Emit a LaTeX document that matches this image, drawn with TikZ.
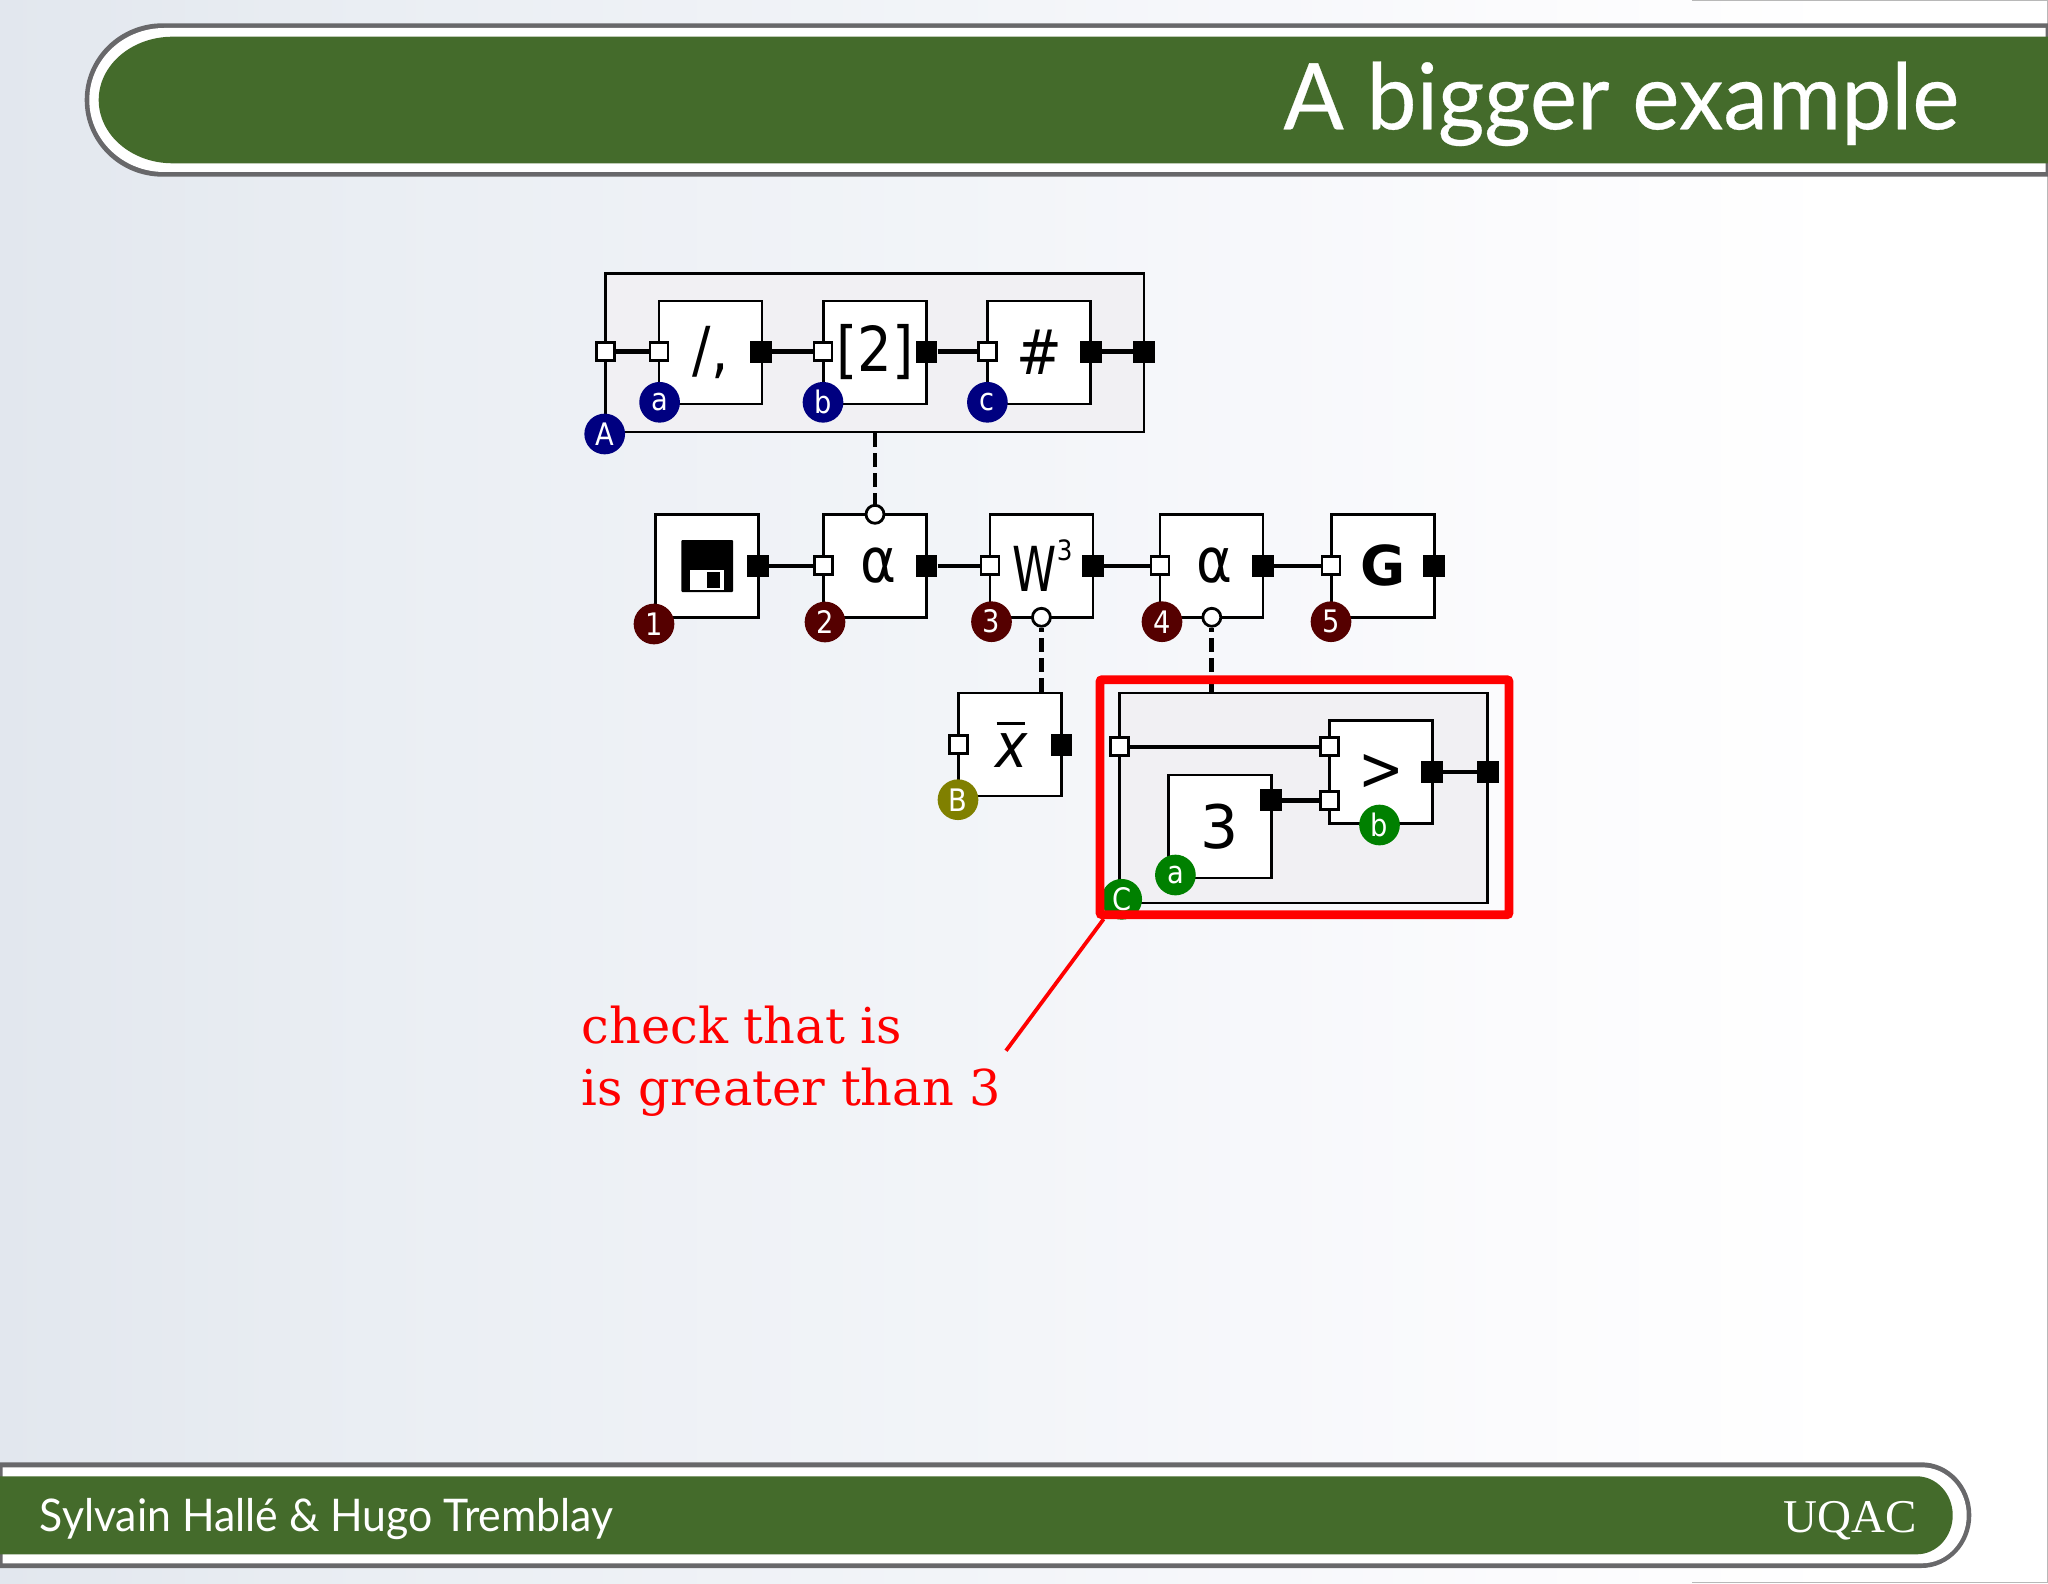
\documentclass[tikz,border=0pt]{standalone}
\usepackage{fontspec}
\setmainfont{DejaVu Sans}
\newfontfamily\gilltitle[FakeStretch=0.97,FakeBold=0.3]{Lato}
\newfontfamily\gillfoot[FakeStretch=0.95]{Lato}
\newfontfamily\uqac{Liberation Serif}
\newfontfamily\noteserif{DejaVu Serif}
\newfontfamily\narrowsans[FakeStretch=0.88]{DejaVu Sans}
\newfontfamily\narrowwide[FakeStretch=0.72]{DejaVu Sans}
\definecolor{slidegreen}{HTML}{446B2B}
\definecolor{slidegray}{HTML}{68686A}
\definecolor{groupfill}{HTML}{F1F0F3}
\definecolor{bnavy}{HTML}{000080}
\definecolor{bmaroon}{HTML}{550000}
\definecolor{bolive}{HTML}{808000}
\definecolor{bgreen}{HTML}{008000}
\definecolor{bgA}{HTML}{E2E7EE}
\definecolor{bgB}{HTML}{EAEEF3}
\definecolor{bgC}{HTML}{F3F5F9}
\definecolor{bgD}{HTML}{FBFBFD}
\pgfdeclarehorizontalshading{slidebg}{100bp}{color(0bp)=(bgA);color(25bp)=(bgA);color(34bp)=(bgB);color(50bp)=(bgC);color(62bp)=(bgD);color(70bp)=(white);color(100bp)=(white)}
\tikzset{
  blk/.style={draw=black,line width=1.35pt,fill=white,minimum width=51.5pt,minimum height=51.5pt,inner sep=0pt,font=\narrowsans\fontsize{31}{31}\selectfont},
  grp/.style={draw=black,line width=1.35pt,fill=groupfill,inner sep=0pt},
  wport/.style={draw=black,line width=1.4pt,fill=white,minimum size=9pt,inner sep=0pt},
  bport/.style={fill=black,minimum width=10.8pt,minimum height=11pt,inner sep=0pt},
  cport/.style={circle,draw=black,line width=1.4pt,fill=white,minimum size=9pt,inner sep=0pt},
  badge/.style={circle,minimum size=20.35pt,inner sep=0pt,text=white,font=\narrowsans\fontsize{15.5}{15.5}\selectfont},
  pipe/.style={line width=2.2pt,black},
  link/.style={line width=2.4pt,black,dash pattern=on 7pt off 3pt},
}
\begin{document}
\begin{tikzpicture}[x=0.5pt,y=-0.5pt]
\useasboundingbox (0,0) rectangle (2048,1583);
\shade[shading=slidebg] (0,0) rectangle (2048,1583);
% page edge
\draw[line width=0.7pt,color=black!28] (1692,0.5) -- (2047.4,0.5) -- (2047.4,1582.4) -- (1692,1582.4);
% header band
\fill[slidegray] (2048,23.3) -- (162.7,23.3) .. controls (119.6,23.3) and (84.7,57.6) .. (84.7,100) .. controls (84.7,142.4) and (119.6,176.7) .. (162.7,176.7) -- (2048,176.7) -- cycle;
\fill[white] (2045.7,28) -- (164.3,28) .. controls (122.9,28) and (89.3,60.2) .. (89.3,100) .. controls (89.3,139.8) and (122.9,172) .. (164.3,172) -- (2045.7,172) -- cycle;
\fill[slidegreen] (2048,36.7) -- (172.7,36.7) .. controls (131.8,36.7) and (98.7,65) .. (98.7,100) .. controls (98.7,135) and (131.8,163.3) .. (172.7,163.3) -- (2048,163.3) -- cycle;
\node[anchor=base west,inner sep=0pt,text=white,font=\gilltitle\fontsize{46}{46}\selectfont] (title) at (1283,129.3) {A bigger example};
% footer band
\fill[slidegray] (0,1462.3) -- (1921.3,1462.3) .. controls (1948.9,1462.3) and (1971.3,1486) .. (1971.3,1515.15) .. controls (1971.3,1544.3) and (1948.9,1568) .. (1921.3,1568) -- (0,1568) -- cycle;
\fill[white] (2.5,1467.3) -- (1921.7,1467.3) .. controls (1946.6,1467.3) and (1966.7,1488.8) .. (1966.7,1515.3) .. controls (1966.7,1541.8) and (1946.6,1563.3) .. (1921.7,1563.3) -- (2.5,1563.3) -- cycle;
\fill[slidegreen] (0,1476.3) -- (1916.7,1476.3) .. controls (1936.6,1476.3) and (1952.7,1493.8) .. (1952.7,1515.3) .. controls (1952.7,1536.8) and (1936.6,1554.3) .. (1916.7,1554.3) -- (0,1554.3) -- cycle;
\node[anchor=base west,inner sep=0pt,text=white,font=\gillfoot\fontsize{22.5}{22.5}\selectfont] (authors) at (39.5,1531.7) {Sylvain Hallé \& Hugo Tremblay};
\node[anchor=base east,inner sep=0pt,text=white,font=\uqac\fontsize{23.5}{23.5}\selectfont] (org) at (1917,1532.7) {UQAC};

% top group
\node[grp,minimum width=269.25pt,minimum height=79.35pt] (ga) at (874.75,352.65) {};
\node[blk] (b1) at (710.5,352.5) {/,};
\node[blk] (b2) at (875,352.5) {[2]};
\node[blk] (b3) at (1039.3,352.5) {\#};
\node[wport] (ga1) at (605.5,351.7) {};
\node[bport] (ga2) at (1144,351.7) {};
\node[wport] (b1i) at (659,351.7) {};
\node[bport] (b1o) at (761,351.7) {};
\node[wport] (b2i) at (823,351.7) {};
\node[bport] (b2o) at (926.5,351.7) {};
\node[wport] (b3i) at (987.4,351.7) {};
\node[bport] (b3o) at (1091,351.7) {};
\draw[pipe] (ga1) -- (b1i);
\draw[pipe] (b1o) -- (b2i);
\draw[pipe] (b2o) -- (b3i);
\draw[pipe] (b3o) -- (ga2);
\node[badge,fill=bnavy] (na) at (659.6,402.3) {a};
\node[badge,fill=bnavy] (nb) at (823,402.3) {b};
\node[badge,fill=bnavy] (nc) at (987.4,402.3) {c};
\node[badge,fill=bnavy] (nA) at (604.7,434) {A};

% main chain
\node[blk] (m1) at (707.3,565.8) {};
\fill[black,rounded corners=0.5pt] (681.4,540) rectangle (733.2,592);
\fill[white] (690,570.3) rectangle (724,590);
\fill[black] (707,571.7) rectangle (720,588.3);
\node[blk] (m2) at (875.1,565.8) {\hspace{3pt}α};
\node[blk,font=\narrowwide\fontsize{31}{31}\selectfont] (m3) at (1041.6,565.8) {\hspace{1pt}W\raisebox{15.5pt}{\narrowsans\fontsize{14}{14}\selectfont 3}};
\node[blk] (m4) at (1211.6,565.8) {\hspace{3pt}α};
\node[blk,font=\fontsize{27.5}{27.5}\selectfont\bfseries] (m5) at (1382.7,565.8) {G};
\node[bport] (m1o) at (758,565.7) {};
\node[wport] (m2i) at (823.3,565.7) {};
\node[bport] (m2o) at (926.5,565.7) {};
\node[wport] (m3i) at (990,565.7) {};
\node[bport] (m3o) at (1093,565.7) {};
\node[wport] (m4i) at (1160,565.7) {};
\node[bport] (m4o) at (1263,565.7) {};
\node[wport] (m5i) at (1331,565.7) {};
\node[bport] (m5o) at (1434,565.7) {};
\draw[pipe] (m1o) -- (m2i);
\draw[pipe] (m2o) -- (m3i);
\draw[pipe] (m3o) -- (m4i);
\draw[pipe] (m4o) -- (m5i);
\node[badge,fill=bmaroon] (n1) at (654,624) {1};
\node[badge,fill=bmaroon] (n2) at (825,622) {2};
\node[badge,fill=bmaroon] (n3) at (991.5,621.7) {3};
\node[badge,fill=bmaroon] (n4) at (1162,621.7) {4};
\node[badge,fill=bmaroon] (n5) at (1331,621.7) {5};

% average box
\node[blk] (xb) at (1010.2,744.5) {\itshape x\hspace{-15.5pt}\raisebox{21.3pt}{\rule{14.2pt}{1.35pt}}\hspace{1.3pt}};
\node[wport] (xbi) at (958.8,744.7) {};
\node[bport] (xbo) at (1061.5,744.7) {};
\node[badge,fill=bolive] (nB) at (958,799.7) {B};

% bottom group
\node[grp,minimum width=184.05pt,minimum height=105pt] (gc) at (1303.75,798) {};
\node[blk,font=\fontsize{30}{30}\selectfont] (c3) at (1219.9,826.5) {3};
\node[blk] (cg) at (1380.9,772) {>};
\node[wport] (gci) at (1119.7,746.7) {};
\node[bport] (gco) at (1487.8,772) {};
\node[wport] (cgi1) at (1329.3,746.7) {};
\node[wport] (cgi2) at (1329.3,800.3) {};
\node[bport] (cgo) at (1432,772) {};
\node[bport] (c3o) at (1271,800.3) {};
\draw[pipe] (gci) -- (cgi1);
\draw[pipe] (c3o) -- (cgi2);
\draw[pipe] (cgo) -- (gco);
\node[badge,fill=bgreen] (ma) at (1175.4,875) {a};
\node[badge,fill=bgreen] (mb) at (1379.5,825) {b};
\node[badge,fill=bgreen] (mc) at (1121.7,899.3) {C};

% lambda links
\node[cport] (p2) at (875,514.3) {};
\node[cport] (p3) at (1041.4,617.3) {};
\node[cport] (p4) at (1211.8,617.3) {};
\draw[link] (ga.south -| p2) -- (p2);
\draw[link] (p3 |- xb.north) -- (p3);
\draw[link] (p4 |- gc.north) -- (p4);

% highlight and note
\node[draw=red,line width=4.35pt,rounded corners=1pt,minimum width=204.5pt,minimum height=117.5pt,inner sep=0pt] (hl) at (1304.5,797.2) {};
\coordinate (noteend) at (1006,1050.7);
\draw[red,line width=1.9pt] ([xshift=4pt]hl.south west) -- (noteend);
\node[anchor=base west,inner sep=0pt,text=red,font=\noteserif\fontsize{24.7}{24.7}\selectfont] (note1) at (581.5,1043.3) {check that is};
\node[anchor=base west,inner sep=0pt,text=red,font=\noteserif\fontsize{24.7}{24.7}\selectfont] (note2) at (581.5,1105) {is greater than 3};
\end{tikzpicture}
\end{document}
